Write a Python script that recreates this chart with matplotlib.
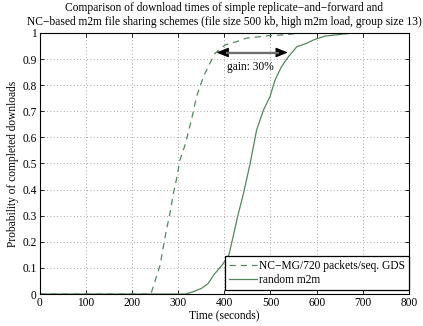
import matplotlib
matplotlib.use("Agg")
import matplotlib.pyplot as plt
from matplotlib.ticker import FuncFormatter

plt.rcParams['font.family'] = ['Liberation Serif', 'DejaVu Serif']
plt.rcParams['font.size'] = 8.3

# Empirical CDFs of download completion time
nc_time = [0, 240, 243, 261, 272, 283, 290, 297, 304, 315, 329, 340, 355, 369, 380, 402, 427, 448, 499, 535, 563, 800]
nc_prob = [0, 0, 0.01, 0.11, 0.22, 0.315, 0.386, 0.443, 0.513, 0.57, 0.667, 0.756, 0.833, 0.884, 0.922, 0.954, 0.967, 0.98, 0.99, 0.993, 1.0, 1.0]

rnd_time = [0, 316, 333, 351, 365, 378, 395, 410, 420, 430, 441, 456, 470, 485, 499, 510, 524, 539, 557, 578, 593, 618, 676, 800]
rnd_prob = [0, 0, 0.009, 0.022, 0.04, 0.075, 0.11, 0.15, 0.226, 0.305, 0.38, 0.5, 0.628, 0.705, 0.756, 0.82, 0.871, 0.909, 0.947, 0.96, 0.973, 0.988, 0.999, 1.0]

gain_from, gain_to, gain_level = 383, 538, 0.925

line_color = '#55865f'

fig = plt.figure(figsize=(4.23, 3.26), dpi=100)
ax = fig.add_axes([0.0934, 0.098, 0.8735, 0.801])

ax.plot(nc_time, nc_prob, color=line_color, lw=0.9, ls=(0, (5, 4)),
        label='NC\u2212MG/720 packets/seq. GDS')
ax.plot(rnd_time, rnd_prob, color=line_color, lw=0.9, label='random m2m')

# double-headed arrow: black heads, grey shaft
ax.annotate('', xy=(gain_from, gain_level), xytext=(gain_to, gain_level),
            arrowprops=dict(arrowstyle='<|-|>,head_length=0.75,head_width=0.3',
                            lw=0.8, mutation_scale=10, shrinkA=0, shrinkB=0,
                            fc='black', ec='black'), zorder=4)
ax.plot([gain_from + 20, gain_to - 20], [gain_level, gain_level],
        color='#6e6e6e', lw=1.6, zorder=5, solid_capstyle='butt')
ax.text(407, 0.87, 'gain: 30%', ha='left', va='center')

ax.set_xlim(0, 800)
ax.set_ylim(0, 1)
ax.set_xticks(range(0, 801, 100))
ax.set_yticks([i / 10 for i in range(11)])
ax.yaxis.set_major_formatter(FuncFormatter(lambda v, p: '%g' % v))
ax.tick_params(direction='in', length=3, width=0.6, top=True, right=True, pad=2)
ax.grid(True, ls=(0, (1, 3)), color='#888888', lw=0.6)
for s in ax.spines.values():
    s.set_linewidth(0.8)

ax.set_xlabel('Time (seconds)', labelpad=0)
ax.set_ylabel('Probability of completed downloads', labelpad=2)
ax.set_title('Comparison of download times of simple replicate\u2212and\u2212forward and\n'
             'NC\u2212based m2m file sharing schemes (file size 500 kb, high m2m load, group size 13)',
             fontsize=8.3, pad=6, linespacing=1.15)

leg = ax.legend(loc='lower right', bbox_to_anchor=(1.0, 0.015), fancybox=False,
                framealpha=1, edgecolor='black', borderpad=0.35, handlelength=2.4,
                handletextpad=0.2, labelspacing=0.15, borderaxespad=0)
leg.get_frame().set_linewidth(0.9)

fig.savefig('out.png', dpi=100)
